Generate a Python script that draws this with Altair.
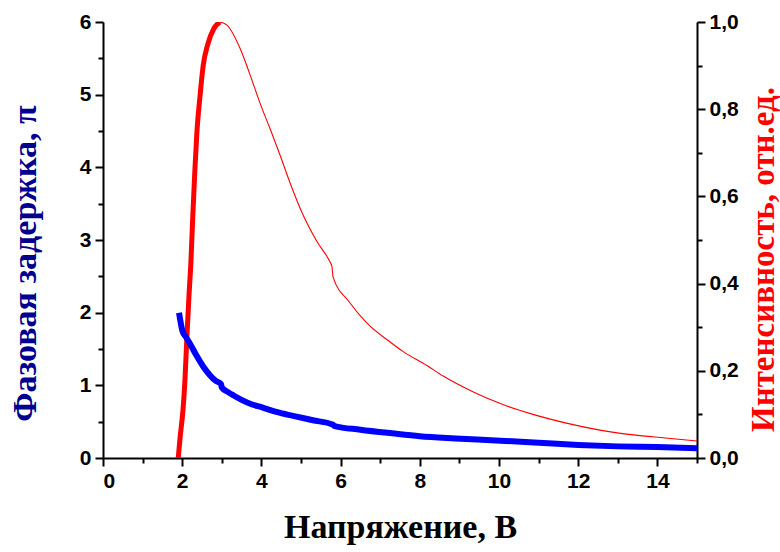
import altair as alt
import pandas as pd

# Phase delay (left axis, units of pi)
phase_x = [1.92, 1.95, 2.0, 2.1, 2.2, 2.35, 2.53, 2.7, 2.85, 2.98, 3.0, 3.15, 3.3, 3.5,
           3.75, 4.0, 4.4, 4.8, 5.3, 5.8, 5.85, 6.5, 7.3, 8.0, 8.9, 9.8, 11.0, 12.0,
           13.0, 14.0, 15.0]
phase_y = [2.0, 1.9, 1.76, 1.66, 1.57, 1.42, 1.26, 1.14, 1.06, 1.02, 0.97, 0.91, 0.86, 0.80,
           0.74, 0.70, 0.63, 0.58, 0.52, 0.46, 0.44, 0.39, 0.34, 0.30, 0.27, 0.245, 0.21, 0.18,
           0.16, 0.15, 0.135]

# Intensity (right axis, rel. units): rising part (thick) and decaying part (thin)
rise_x = [1.9, 1.95, 2.02, 2.07, 2.12, 2.17, 2.22, 2.27, 2.32, 2.37, 2.45, 2.53, 2.65, 2.8, 2.95]
rise_y = [0.0, 0.05, 0.11, 0.18, 0.28, 0.37, 0.45, 0.56, 0.66, 0.745, 0.83, 0.9, 0.95, 0.985, 1.0]
decay_x = [2.95, 3.13, 3.46, 3.71, 3.96, 4.22, 4.47, 4.72, 5.05, 5.40, 5.73, 5.78, 5.81, 6.2,
           6.66, 7.25, 7.58, 8.18, 8.59, 9.34, 10.0, 10.86, 11.7, 12.55, 13.4, 14.2, 15.0]
decay_y = [1.0, 0.993, 0.94, 0.88, 0.815, 0.755, 0.695, 0.632, 0.558, 0.497, 0.45, 0.44, 0.415,
           0.36, 0.31, 0.266, 0.244, 0.212, 0.188, 0.152, 0.126, 0.1, 0.08, 0.064, 0.053, 0.046,
           0.039]

x_ticks = list(range(0, 16))
left_ticks = [i * 0.5 for i in range(0, 13)]
right_ticks = [round(i * 0.1, 1) for i in range(0, 11)]

phase_df = pd.DataFrame({"x": phase_x, "y": phase_y})
int_df = pd.DataFrame({
    "x": rise_x + decay_x,
    "y": rise_y + decay_y,
    "seg": ["rise"] * len(rise_x) + ["decay"] * len(decay_x),
    "order": list(range(len(rise_x) + len(decay_x))),
})

LABEL_FONT = "Liberation Sans"
TITLE_FONT = "Liberation Serif"

x_axis = alt.Axis(
    values=x_ticks,
    labelExpr="datum.value % 2 === 0 ? datum.value : ''",
    tickSize={"condition": {"test": "datum.value % 2 === 0", "value": 8}, "value": 5},
    labelOverlap=False, grid=False,
    title="Напряжение, В", titleFont=TITLE_FONT, titleFontSize=34, titleFontWeight="bold",
    titleColor="black", titlePadding=19,
    labelFont=LABEL_FONT, labelFontSize=21, labelFontWeight="bold", labelColor="black",
    labelPadding=4,
    domainColor="black", domainWidth=2, tickColor="black", tickWidth=2,
)

x_enc = alt.X("x:Q", scale=alt.Scale(domain=[0, 15], nice=False, zero=False), axis=x_axis)

blue = alt.Chart(phase_df).mark_line(color="#0000ff", strokeWidth=6, clip=True,
                                     interpolate="monotone").encode(
    x=x_enc,
    y=alt.Y("y:Q", scale=alt.Scale(domain=[0, 6], nice=False),
            axis=alt.Axis(
                orient="left", values=left_ticks,
                labelExpr="datum.value % 1 === 0 ? datum.value : ''",
                tickSize={"condition": {"test": "datum.value % 1 === 0", "value": 8}, "value": 5},
                labelOverlap=False, grid=False,
                title="Фазовая задержка, π", titleFont=TITLE_FONT, titleFontSize=34,
                titleFontWeight="bold", titleColor="#000090",
                titleAngle=270, titleAlign="center", titleBaseline="alphabetic",
                titleX=-68, titleY=241,
                labelFont=LABEL_FONT, labelFontSize=21, labelFontWeight="bold",
                labelColor="black", labelPadding=4,
                domainColor="black", domainWidth=2, tickColor="black", tickWidth=2,
            )),
    order="x:Q",
)

red = alt.Chart(int_df).mark_line(color="#ff0000", clip=True, interpolate="monotone").encode(
    x=x_enc,
    y=alt.Y("y:Q", scale=alt.Scale(domain=[0, 1], nice=False),
            axis=alt.Axis(
                orient="right", values=right_ticks,
                labelExpr="abs(datum.value*5 - round(datum.value*5)) < 0.001 ? replace(format(datum.value, '.1f'), '.', ',') : ''",
                tickSize={"condition": {"test": "abs(datum.value*5 - round(datum.value*5)) < 0.001", "value": 8}, "value": 5},
                labelOverlap=False, grid=False,
                title="Интенсивность, отн.ед.", titleFont=TITLE_FONT, titleFontSize=33,
                titleFontWeight="bold", titleColor="#ff0000",
                titleAngle=270, titleAlign="center", titleBaseline="alphabetic",
                titleX=76, titleY=237,
                labelFont=LABEL_FONT, labelFontSize=21, labelFontWeight="bold",
                labelColor="black", labelPadding=4,
                domainColor="black", domainWidth=2, tickColor="black", tickWidth=2,
            )),
    strokeWidth=alt.StrokeWidth("seg:N", scale=alt.Scale(domain=["rise", "decay"], range=[5, 1.1]),
                                legend=None),
    order="order:Q",
)

chart = alt.layer(red, blue).resolve_scale(y="independent").properties(
    width=594, height=436,
    autosize=alt.AutoSizeParams(type="none"),
    padding={"left": 103, "top": 22, "right": 83, "bottom": 94},
    background="white",
).configure_view(stroke=None)

chart.save("out.html", embed_options={"renderer": "svg", "actions": False})
